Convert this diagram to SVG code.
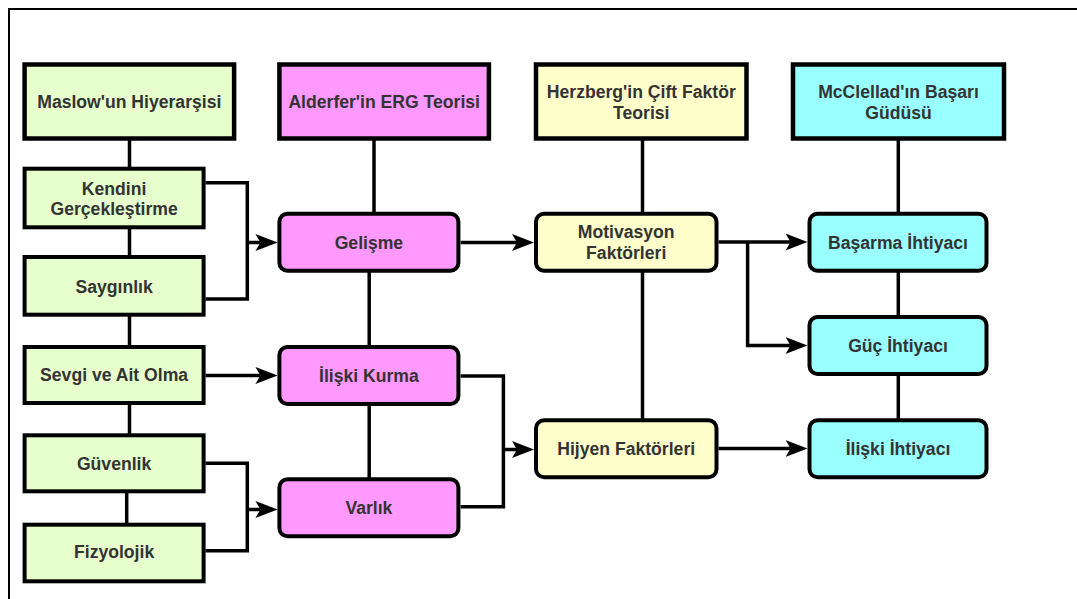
<svg xmlns="http://www.w3.org/2000/svg" width="1077" height="599" viewBox="0 0 1077 599">
  <defs>
    <marker id="arrow" viewBox="0 0 22 17" refX="5" refY="8.5" markerWidth="22" markerHeight="17" markerUnits="userSpaceOnUse" orient="auto">
      <path d="M0,0 L22,8.5 L0,17 L5,8.5 Z" fill="#000"/>
    </marker>
  </defs>
  <style>
    .box { stroke: #000; stroke-width: 4; }
    .head { stroke: #000; stroke-width: 4.5; }
    .green { fill: #E6FFCC; }
    .pink { fill: #FF99FF; }
    .yellow { fill: #FFFFCC; }
    .cyan { fill: #99FFFF; }
    .lbl { font-family: "Liberation Sans", Arial, sans-serif; font-size: 17.6px; font-weight: bold; fill: #333; text-anchor: middle; }
    .wire { fill: none; stroke: #000; stroke-width: 3.5; }
    .arr { fill: none; stroke: #000; stroke-width: 3.5; marker-end: url(#arrow); }
    .frame { fill: none; stroke: #000; stroke-width: 2; }
  </style>

  <!-- page frame (top and left edges only visible) -->
  <path class="frame" d="M9,599 V9 H1077"/>

  <!-- connectors -->
  <g id="connectors">
    <!-- Maslow column chain -->
    <path class="wire" d="M129.5,140 V169"/>
    <path class="wire" d="M129.5,227 V257"/>
    <path class="wire" d="M129.5,315 V347"/>
    <path class="wire" d="M129.5,403 V435"/>
    <path class="wire" d="M126.7,491 V525"/>
    <!-- ERG column chain -->
    <path class="wire" d="M374,140 V214"/>
    <path class="wire" d="M369.2,270 V347"/>
    <path class="wire" d="M369.2,404 V479"/>
    <!-- Herzberg column chain -->
    <path class="wire" d="M642.5,140 V214"/>
    <path class="wire" d="M642.5,270 V420"/>
    <!-- McClelland column chain -->
    <path class="wire" d="M898.3,140 V214"/>
    <path class="wire" d="M898.3,270 V317"/>
    <path class="wire" d="M898.3,374 V420"/>

    <!-- Kendini Gerçekleştirme + Saygınlık -> Gelişme -->
    <path class="wire" d="M205.5,182.7 H247.3 V299 H205.5"/>
    <path class="arr" d="M247.3,242.5 H260.4"/>
    <!-- Sevgi ve Ait Olma -> İlişki Kurma -->
    <path class="arr" d="M205.5,375.5 H260.4"/>
    <!-- Güvenlik + Fizyolojik -> Varlık -->
    <path class="wire" d="M205.5,463.3 H247.3 V550.7 H205.5"/>
    <path class="arr" d="M247.3,509.5 H260.4"/>

    <!-- Gelişme -> Motivasyon Faktörleri -->
    <path class="arr" d="M460.6,242.5 H517"/>
    <!-- İlişki Kurma + Varlık -> Hijyen Faktörleri -->
    <path class="wire" d="M460.6,376 H503.4 V506.7 H460.6"/>
    <path class="arr" d="M503.4,449.5 H517"/>

    <!-- Motivasyon Faktörleri -> Başarma / Güç İhtiyacı -->
    <path class="arr" d="M718.5,242 H790.5"/>
    <path class="arr" d="M747.6,242 V345.5 H790.5"/>
    <!-- Hijyen Faktörleri -> İlişki İhtiyacı -->
    <path class="arr" d="M718.5,448.5 H790.5"/>
  </g>

  <!-- header boxes -->
  <g id="maslow">
    <rect class="head green" x="24.6" y="64.5" width="209.5" height="74"/>
    <text class="lbl" x="129.3" y="107.7">Maslow'un Hiyerarşisi</text>
  </g>
  <g id="alderfer">
    <rect class="head pink" x="279.4" y="64.5" width="209.5" height="74"/>
    <text class="lbl" x="384.2" y="107.7">Alderfer'in ERG Teorisi</text>
  </g>
  <g id="herzberg">
    <rect class="head yellow" x="536" y="64.5" width="210.5" height="74"/>
    <text class="lbl" x="641.3" y="97.9">Herzberg'in Çift Faktör</text>
    <text class="lbl" x="641.3" y="118.9">Teorisi</text>
  </g>
  <g id="mcclelland">
    <rect class="head cyan" x="793" y="64.5" width="211" height="74"/>
    <text class="lbl" x="898.5" y="97.9">McClellad'ın Başarı</text>
    <text class="lbl" x="898.5" y="118.9">Güdüsü</text>
  </g>

  <!-- Maslow levels -->
  <g id="kendini">
    <rect class="box green" x="24.6" y="168.7" width="179" height="58.6"/>
    <text class="lbl" x="114.1" y="194.5">Kendini</text>
    <text class="lbl" x="114.1" y="214.5">Gerçekleştirme</text>
  </g>
  <g id="saygınlık">
    <rect class="box green" x="24.6" y="257" width="179" height="57.7"/>
    <text class="lbl" x="114.1" y="292.5">Saygınlık</text>
  </g>
  <g id="sevgi">
    <rect class="box green" x="24.6" y="347" width="179" height="56"/>
    <text class="lbl" x="114.1" y="381.2">Sevgi ve Ait Olma</text>
  </g>
  <g id="guvenlik">
    <rect class="box green" x="24.6" y="435.3" width="179" height="56"/>
    <text class="lbl" x="114.1" y="469.5">Güvenlik</text>
  </g>
  <g id="fizyolojik">
    <rect class="box green" x="24.6" y="524.7" width="179" height="56.6"/>
    <text class="lbl" x="114.1" y="558.2">Fizyolojik</text>
  </g>

  <!-- ERG levels -->
  <g id="gelisme">
    <rect class="box pink" x="279.4" y="213.7" width="179" height="57" rx="8"/>
    <text class="lbl" x="368.9" y="248.7">Gelişme</text>
  </g>
  <g id="iliski-kurma">
    <rect class="box pink" x="279.4" y="347" width="179" height="57" rx="8"/>
    <text class="lbl" x="368.9" y="382">İlişki Kurma</text>
  </g>
  <g id="varlik">
    <rect class="box pink" x="279.4" y="479.3" width="179" height="57" rx="8"/>
    <text class="lbl" x="368.9" y="514.4">Varlık</text>
  </g>

  <!-- Herzberg factors -->
  <g id="motivasyon">
    <rect class="box yellow" x="536" y="213.7" width="180.5" height="57" rx="8"/>
    <text class="lbl" x="626.2" y="237.9">Motivasyon</text>
    <text class="lbl" x="626.2" y="258.9">Faktörleri</text>
  </g>
  <g id="hijyen">
    <rect class="box yellow" x="536" y="420.3" width="180.5" height="57" rx="8"/>
    <text class="lbl" x="626.2" y="455.2">Hijyen Faktörleri</text>
  </g>

  <!-- McClelland needs -->
  <g id="basarma">
    <rect class="box cyan" x="809.5" y="213.7" width="177" height="57" rx="8"/>
    <text class="lbl" x="898" y="248.7">Başarma İhtiyacı</text>
  </g>
  <g id="guc">
    <rect class="box cyan" x="809.5" y="317" width="177" height="57" rx="8"/>
    <text class="lbl" x="898" y="352">Güç İhtiyacı</text>
  </g>
  <g id="iliski-ihtiyaci">
    <rect class="box cyan" x="809.5" y="420.3" width="177" height="57" rx="8"/>
    <text class="lbl" x="898" y="455.2">İlişki İhtiyacı</text>
  </g>
</svg>
